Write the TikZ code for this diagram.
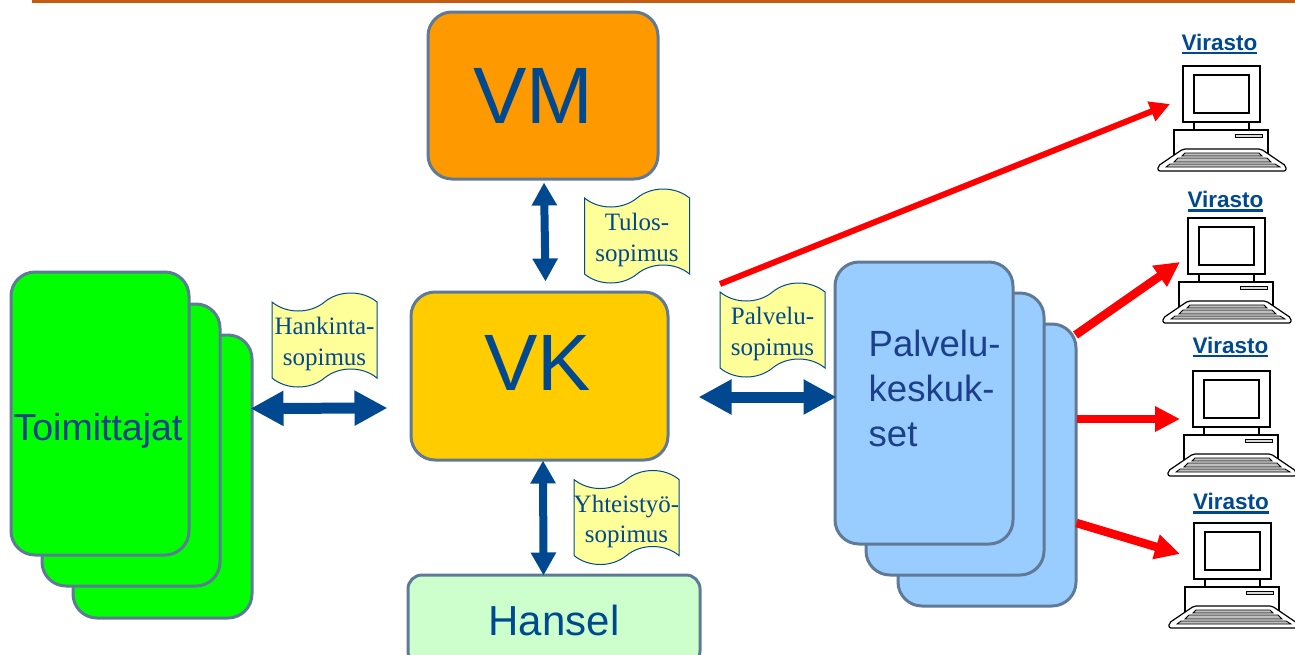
\documentclass[tikz,border=0pt]{standalone}
\usepackage{fontspec}
\setmainfont{Liberation Sans}
\newfontfamily\tapefont{Liberation Serif}
\usetikzlibrary{calc,arrows.meta,shapes.symbols}
\definecolor{navy}{HTML}{004990}
\definecolor{darknavy}{HTML}{1B3F8B}
\definecolor{slate}{HTML}{5F7A96}
\definecolor{rust}{HTML}{C55A11}
\definecolor{paper}{HTML}{FFFF99}
\newcommand{\bigtext}[1]{\fontsize{#1}{#1}\selectfont}
\newcommand{\thickunder}[1]{\vtop{\hbox{#1}\kern1.5pt\hrule height 2.5pt}}

\tikzset{computer/.pic={
\draw[fill=white,line width=1.2pt] (-9,64) rectangle (85,90);
\draw[line width=1.2pt,fill=white] (0,0) rectangle (77,56);
\draw[line width=1.2pt] (11,9) rectangle (66,47);
\draw[line width=1.2pt] (11,56) -- (11,64) (66,56) -- (66,64);
\draw[line width=1pt,fill=black!15] (52,68) rectangle (79,71);
\draw[line width=1.2pt,fill=white,rounded corners=2pt] (0,83) -- (78,83) -- (103,100) -- (103,105) -- (-25,105) -- (-25,100) -- cycle;
\draw[line width=.8pt,fill=black!25] (2,87) -- (76,87) -- (79,90) -- (-1,90) -- cycle;
\draw[line width=.8pt,fill=black!25] (-5,92) -- (84,92) -- (88,96) -- (-9,96) -- cycle;
\draw[line width=.8pt,fill=black!25] (-13,98) -- (92,98) -- (97,101) -- (-17,101) -- cycle;
}}

\begin{document}
\begin{tikzpicture}[x=1pt,y=-1pt]
% This determines how the boxes, scrolls and arrows will look.
\tikzstyle{card}=[draw=slate,line width=3pt,rounded corners=24pt,inner sep=0pt,text=navy]
\tikzstyle{scroll}=[shape=tape,tape bend top=in and out,tape bend bottom=in and out,tape bend height=18pt,
draw=navy,line width=1pt,fill=paper,inner sep=0pt,minimum width=105pt,minimum height=94pt]
\tikzstyle{scrolltext}=[align=center,text=navy,inner sep=0pt,font=\tapefont\bigtext{25},execute at begin node={\baselineskip=30.5pt}]
\tikzstyle{bluearrow}=[draw=navy,line width=11pt,{Triangle[length=33pt,width=33pt,fill=navy]}-{Triangle[length=33pt,width=33pt,fill=navy]}]
\tikzstyle{thinarrow}=[draw=navy,line width=8pt,{Triangle[length=23pt,width=24pt,fill=navy]}-{Triangle[length=23pt,width=24pt,fill=navy]}]
\tikzstyle{redarrow}=[draw=red,line width=8.5pt,-{Triangle[length=25pt,width=24pt,fill=red]}]
\tikzstyle{longredarrow}=[draw=red,line width=6pt,-{Triangle[length=20pt,width=20pt,fill=red]}]
\tikzstyle{office}=[font=\bfseries\bigtext{22.5},text=navy,inner sep=0pt]

\clip (0,0) rectangle (1295,654);
\useasboundingbox (0,0) rectangle (1295,654);

% This draws the line along the top.
\draw[rust,line width=3pt] (32,1.5) -- (1295,1.5);

% This draws the three main boxes.
\node[card,fill={rgb,255:red,255;green,153;blue,0},minimum width=230pt,minimum height=167pt] (VM) at (543,95.5) {};
\node[card,fill={rgb,255:red,255;green,204;blue,0},minimum width=257pt,minimum height=168pt] (VK) at (539.5,376) {};
\node[card,rounded corners=14pt,fill={rgb,255:red,204;green,255;blue,204},minimum width=292pt,minimum height=90pt,font=\bigtext{42}] (Hansel) at (554,620) {Hansel};
\node[text=navy,font=\bigtext{80},inner sep=0pt] (VMtext) at ($(VM.center)+(-10,0)$) {VM};
\node[text=navy,font=\bigtext{80},inner sep=0pt] (VKtext) at ($(VK.center)+(-2,-13)$) {VK};

% This draws the suppliers.
\node[card,fill=green,minimum width=179pt,minimum height=283pt] (toim3) at (162.5,476.5) {};
\node[card,fill=green,minimum width=178pt,minimum height=282pt] (toim2) at (131,445) {};
\node[card,fill=green,minimum width=178pt,minimum height=283pt] (toim1) at (100,413.5) {};
\node[text=darknavy,font=\bigtext{37.5},inner sep=0pt] (toimtext) at ($(toim1.center)+(-2,17)$) {Toimittajat};

% This draws the service centres.
\node[card,fill={rgb,255:red,153;green,204;blue,255},minimum width=178pt,minimum height=282pt] (palv3) at (987,465) {};
\node[card,fill={rgb,255:red,153;green,204;blue,255},minimum width=178pt,minimum height=282pt] (palv2) at (955,434) {};
\node[card,fill={rgb,255:red,153;green,204;blue,255},minimum width=178pt,minimum height=282pt] (palv1) at (924,403) {};
\node[text=darknavy,font=\bigtext{36.5},align=left,inner sep=0pt,anchor=west,
execute at begin node={\baselineskip=45pt}] (palvtext) at ($(palv1.west)+(35,-15)$) {Palvelu-\\keskuk-\\set};

% This draws the scrolls.
\node[scroll] (tulos) at (637,236) {};
\node[scroll] (palvelu) at (772.5,330) {};
\node[scroll] (hankinta) at (324.5,340) {};
\node[scroll] (yhteistyo) at (626.5,517.5) {};
\node[scrolltext] (tulostext) at ($(tulos.center)+(0,4)$) {Tulos-\\sopimus};
\node[scrolltext] (palvelutext) at ($(palvelu.center)+(0,4)$) {Palvelu-\\sopimus};
\node[scrolltext] (hankintatext) at ($(hankinta.center)+(0,4)$) {Hankinta-\\sopimus};
\node[scrolltext] (yhteistyotext) at ($(yhteistyo.center)+(0,4)$) {Yhteistyö-\\sopimus};

% This draws the double arrows.
\draw[bluearrow] ($(toim3.east)+(-3,-68)$) -- ($(VK.west)+(-22,32)$);
\draw[bluearrow] ($(VK.east)+(29,21)$) -- ($(palv1.west)+(3,-6)$);
\draw[thinarrow] ($(VM.south)+(1,2)$) -- ($(VK.north)+(6,-9)$);
\draw[thinarrow] ($(VK.south)+(3.5,-1)$) -- ($(Hansel.north)+(-10.5,2)$);

% This draws the offices.
\pic (pc1) at (1183,66) {computer};
\pic (pc2) at (1188,218) {computer};
\pic (pc3) at (1193,371) {computer};
\pic (pc4) at (1194,523) {computer};
\node[office] (vir1) at (1219.5,44) {\thickunder{Virasto}};
\node[office] (vir2) at (1225.5,201.5) {\thickunder{Virasto}};
\node[office] (vir3) at (1230.5,347) {\thickunder{Virasto}};
\node[office] (vir4) at (1231,503.5) {\thickunder{Virasto}};

% This draws the red arrows.
\coordinate (pc1end) at (1170,104);
\coordinate (pc2end) at (1180,262);
\coordinate (pc3end) at (1180,419);
\coordinate (pc4end) at (1180,554);
\draw[longredarrow] ($(palvelu.center)+(-52.5,-46)$) -- (pc1end);
\draw[redarrow] ($(palv3.east)+(-2,-130)$) -- (pc2end);
\draw[redarrow] ($(palv3.east)+(-1,-46)$) -- (pc3end);
\draw[redarrow] ($(palv3.east)+(-1,58)$) -- (pc4end);
\end{tikzpicture}
\end{document}
